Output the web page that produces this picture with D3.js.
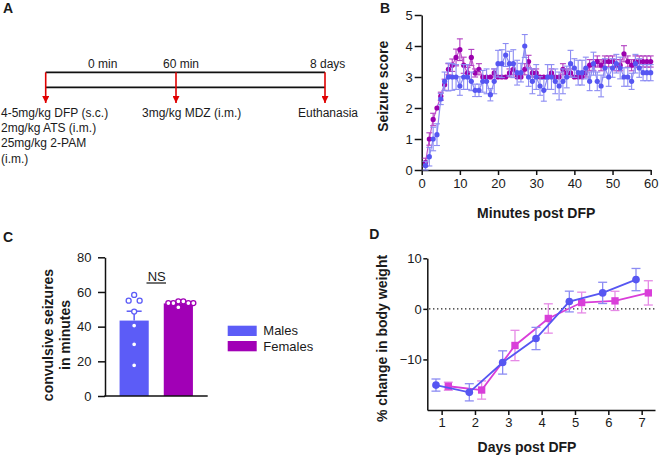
<!DOCTYPE html>
<html><head><meta charset="utf-8">
<script src="https://cdn.jsdelivr.net/npm/d3@7"></script>
<style>
body{margin:0;background:#fff}
svg{display:block}
text{font-family:"Liberation Sans",Arial,sans-serif;fill:#1a1a1a}
</style>
</head><body>
<svg id="c" width="659" height="456"></svg>
<script>
// ---------- DATA ----------
// Panel A: timeline
const timelineTimes = ["0 min", "60 min", "8 days"];
const timelineLabels = [
  ["4-5mg/kg DFP (s.c.)", "2mg/kg ATS (i.m.)", "25mg/kg 2-PAM", "(i.m.)"],
  ["3mg/kg MDZ (i.m.)"],
  ["Euthanasia"]
];
// Panel B: seizure score per minute
const minutes = d3.range(1, 61);
const maleScore = [0.14,0.43,1.0,1.14,2.29,2.86,3.0,3.0,3.0,2.71,3.0,3.0,2.86,2.57,2.57,2.86,2.86,2.43,2.86,3.43,
  3.43,3.71,3.43,3.43,3.14,3.14,4.0,3.0,2.86,3.0,2.71,2.57,3.0,3.0,2.86,2.71,2.86,3.0,3.43,3.29,
  3.14,3.14,3.29,2.86,3.43,2.86,2.71,3.29,3.0,3.29,3.43,3.29,3.0,3.0,2.86,3.43,3.29,3.14,3.14,3.14];
const maleScoreErr = [0.14,0.3,0.38,0.35,0.18,0.3,0.45,0.43,0.4,0.3,0.4,0.4,0.3,0.2,0.2,0.35,0.4,0.2,0.4,0.43,
  0.45,0.37,0.4,0.45,0.4,0.3,0.37,0.3,0.4,0.4,0.3,0.35,0.4,0.4,0.4,0.45,0.4,0.35,0.43,0.3,
  0.4,0.4,0.35,0.3,0.37,0.3,0.35,0.3,0.3,0.3,0.3,0.35,0.3,0.3,0.26,0.3,0.3,0.26,0.26,0.26];
const femaleScore = [0.25,1.0,1.63,2.0,2.38,2.75,3.25,3.38,3.63,3.88,3.38,3.13,3.63,3.13,3.25,3.0,3.0,3.0,3.13,3.0,
  3.0,3.0,3.13,3.25,3.0,3.0,3.25,3.5,3.13,3.13,3.0,3.0,3.0,3.13,3.0,3.0,3.25,3.13,3.13,3.0,
  3.0,3.0,3.13,3.38,3.38,3.5,3.38,3.5,3.5,3.5,3.38,3.38,3.75,3.5,3.38,3.5,3.5,3.5,3.5,3.5];
const femaleScoreErr = [0.13,0.2,0.2,0.0,0.13,0.18,0.18,0.2,0.27,0.35,0.26,0.18,0.26,0.13,0.18,0.0,0.0,0.0,0.13,0.0,
  0.0,0.0,0.13,0.18,0.0,0.0,0.18,0.2,0.13,0.13,0.0,0.0,0.0,0.13,0.0,0.0,0.18,0.13,0.13,0.0,
  0.0,0.0,0.13,0.18,0.18,0.18,0.18,0.18,0.18,0.18,0.18,0.18,0.26,0.18,0.18,0.18,0.18,0.18,0.18,0.18];
// Panel C: convulsive seizure duration
const groups = ["Males", "Females"];
const seizureMean = [43.5, 53.4];
const seizureSem = [5.4, 0.5];
const maleSeizure = [58.3, 55, 55, 48.7, 40.6, 29.8, 17.7];
const femaleSeizure = [54.6, 54.6, 53.6, 53.6, 53.6, 53.6, 51.2];
const seizureTicks = [0, 20, 40, 60, 80];
// Panel D: body weight change
const days = [1, 2, 3, 4, 5, 6, 7];
const maleWeight = [-15.07, -16.5, -10.6, -5.86, 1.45, 3.16, 5.79];
const maleWeightErr = [1.2, 1.7, 2.3, 2.2, 2.05, 2.1, 2.2];
const femaleWeight = [-15.3, -16.05, -7.24, -1.9, 1.25, 1.58, 3.16];
const femaleWeightErr = [0.8, 1.8, 3.0, 2.9, 2.05, 1.9, 2.4];
const weightTicks = [-10, 0, 10];

// ---------- STYLE ----------
const C = {
  maleDark: "#5656f2", maleLight: "#8c8cf3", maleBar: "#5c5cf7",
  femDark: "#9b00ae", femLine: "#c050cc", femBar: "#a100b6",
  pinkDark: "#d93ed9", pinkLight: "#e68ae6",
  red: "#e00000"
};
const svg = d3.select("#c");
const boldT = (x, y, s, size = 14) => svg.append("text").attr("x", x).attr("y", y)
  .attr("font-weight", "bold").attr("font-size", size).text(s);
function styleAxis(g) {
  g.selectAll("path,line").attr("stroke", "#111").attr("stroke-width", 1.5);
  g.selectAll("text").attr("font-size", 13).attr("fill", "#1a1a1a")
    .attr("font-family", '"Liberation Sans",Arial,sans-serif');
}

// ---------- PANEL A ----------
boldT(3, 13, "A");
const aX0 = 45.7, aX1 = 325;
const evX = d3.scaleOrdinal().domain(timelineTimes).range([45.7, 176, 325]);
const timeTextX = d3.scaleOrdinal().domain(timelineTimes).range([88, 163, 310]);
const labelX = d3.scaleOrdinal().domain(timelineTimes).range([1, 142, 298]);
[72.3, 87.3].forEach(y => svg.append("line").attr("x1", aX0).attr("x2", aX1)
  .attr("y1", y).attr("y2", y).attr("stroke", "#111").attr("stroke-width", 1.8));
svg.append("defs").append("marker").attr("id", "arr").attr("viewBox", "0 0 10 10")
  .attr("refX", 10).attr("refY", 5).attr("markerWidth", 7).attr("markerHeight", 7)
  .attr("markerUnits", "userSpaceOnUse").attr("orient", "auto")
  .append("path").attr("d", "M0,0L10,5L0,10z").attr("fill", C.red);
timelineTimes.forEach((t, i) => {
  svg.append("line").attr("x1", evX(t)).attr("x2", evX(t)).attr("y1", 72.3).attr("y2", 103)
    .attr("stroke", C.red).attr("stroke-width", 1.6).attr("marker-end", "url(#arr)");
  svg.append("text").attr("x", timeTextX(t)).attr("y", 68).attr("font-size", 12).text(t);
  timelineLabels[i].forEach((s, j) => svg.append("text").attr("x", labelX(t))
    .attr("y", 117 + j * 15.2).attr("font-size", 12).text(s));
});

// ---------- PANEL B ----------
boldT(380, 13, "B");
const xB = d3.scaleLinear([0, 60], [421.7, 650.7]);
const yB = d3.scaleLinear([0, 5], [170, 15]);
svg.append("g").attr("transform", "translate(421.7,0)")
  .call(d3.axisLeft(yB).ticks(5).tickSize(7).tickSizeOuter(0).tickPadding(2)).call(styleAxis);
svg.append("g").attr("transform", "translate(0,170)")
  .call(d3.axisBottom(xB).tickValues([0, 10, 20, 30, 40, 50, 60]).tickSize(5).tickSizeOuter(0).tickPadding(4))
  .call(styleAxis);
boldT(0, 0, "Seizure score").attr("transform", "translate(388,86.3) rotate(-90)").attr("text-anchor", "middle");
boldT(536.2, 218, "Minutes post DFP").attr("text-anchor", "middle");

function drawScoreSeries(vals, errs, dot, line, errC) {
  const g = svg.append("g");
  const cw = 3;
  minutes.forEach((m, i) => {
    if (errs[i] <= 0) return;
    const x = xB(m), y1 = yB(vals[i] - errs[i]), y2 = yB(vals[i] + errs[i]);
    g.append("line").attr("x1", x).attr("x2", x).attr("y1", y1).attr("y2", y2);
    g.append("line").attr("x1", x - cw).attr("x2", x + cw).attr("y1", y1).attr("y2", y1);
    g.append("line").attr("x1", x - cw).attr("x2", x + cw).attr("y1", y2).attr("y2", y2);
  });
  g.selectAll("line").attr("stroke", errC).attr("stroke-width", 1.1);
  g.append("path").datum(vals).attr("fill", "none").attr("stroke", line).attr("stroke-width", 1.2)
    .attr("d", d3.line().x((d, i) => xB(minutes[i])).y(d => yB(d)));
  g.selectAll("circle").data(vals).join("circle").attr("cx", (d, i) => xB(minutes[i]))
    .attr("cy", d => yB(d)).attr("r", 2.6).attr("fill", dot);
}
drawScoreSeries(femaleScore, femaleScoreErr, C.femDark, C.femLine, "#b13ec0");
drawScoreSeries(maleScore, maleScoreErr, C.maleDark, C.maleLight, C.maleLight);

// ---------- PANEL C ----------
boldT(3, 242, "C");
const yC = d3.scaleLinear([0, 80], [396, 257.3]);
const xC = d3.scaleBand().domain(groups).range([105, 207.5]).paddingInner(0.34).paddingOuter(0.33);
const barCol = [C.maleBar, C.femBar];
svg.append("g").selectAll("rect").data(groups).join("rect")
  .attr("x", d => xC(d)).attr("width", xC.bandwidth())
  .attr("y", (d, i) => yC(seizureMean[i])).attr("height", (d, i) => yC(0) - yC(seizureMean[i]))
  .attr("fill", (d, i) => barCol[i]);
groups.forEach((gname, i) => {
  const cx = xC(gname) + xC.bandwidth() / 2;
  const yt = yC(seizureMean[i] + seizureSem[i]);
  svg.append("line").attr("x1", cx).attr("x2", cx).attr("y1", yC(seizureMean[i])).attr("y2", yt)
    .attr("stroke", barCol[i]).attr("stroke-width", 1.5);
  svg.append("line").attr("x1", cx - 7.5).attr("x2", cx + 7.5).attr("y1", yt).attr("y2", yt)
    .attr("stroke", barCol[i]).attr("stroke-width", 1.5);
});
function swarm(vals, cx, collide, step) {
  const placed = [];
  vals.map(v => ({ v, y: yC(v) })).sort((a, b) => b.v - a.v).forEach(p => {
    for (let k = 0; k < 40; k++) {
      const off = k === 0 ? 0 : (k % 2 ? 1 : -1) * Math.ceil(k / 2) * step;
      const x = cx + off;
      if (placed.every(q => Math.hypot(q.x - x, q.y - p.y) >= collide)) { placed.push({ x, y: p.y }); break; }
    }
  });
  return placed;
}
[[maleSeizure, 7.5, 5.5], [femaleSeizure, 5, 5]].forEach(([vals, col, st], i) => {
  const cx = xC(groups[i]) + xC.bandwidth() / 2;
  svg.append("g").selectAll("circle").data(swarm(vals, cx, col, st)).join("circle")
    .attr("cx", d => d.x).attr("cy", d => d.y).attr("r", 2.5)
    .attr("fill", "#fff").attr("stroke", barCol[i]).attr("stroke-width", 1.3);
});
svg.append("g").attr("transform", "translate(105,0)")
  .call(d3.axisLeft(yC).tickValues(seizureTicks).tickSize(7).tickSizeOuter(0).tickPadding(6.5)).call(styleAxis);
svg.append("line").attr("x1", 104.25).attr("x2", 207.7).attr("y1", 396).attr("y2", 396)
  .attr("stroke", "#111").attr("stroke-width", 1.5);
svg.append("text").attr("x", 156.7).attr("y", 280.5).attr("text-anchor", "middle").attr("font-size", 13).text("NS");
svg.append("line").attr("x1", 146.5).attr("x2", 166).attr("y1", 283).attr("y2", 283)
  .attr("stroke", "#111").attr("stroke-width", 1.2);
boldT(0, 0, "convulsive seizures").attr("transform", "translate(53.3,335) rotate(-90)").attr("text-anchor", "middle");
boldT(0, 0, "in minutes").attr("transform", "translate(70,335) rotate(-90)").attr("text-anchor", "middle");
groups.forEach((gname, i) => {
  svg.append("rect").attr("x", 227.7).attr("y", 325.7 + i * 15.3).attr("width", 29).attr("height", 10.3)
    .attr("fill", barCol[i]);
  svg.append("text").attr("x", 263.3).attr("y", 335.3 + i * 15.3).attr("font-size", 13).text(gname);
});

// ---------- PANEL D ----------
boldT(369.3, 239, "D");
const xD = d3.scaleLinear([0.57, 7.4], [427.3, 655]);
const yD = d3.scaleLinear([-20, 10], [410, 258.3]);
svg.append("line").attr("x1", 429).attr("x2", 655).attr("y1", yD(0)).attr("y2", yD(0))
  .attr("stroke", "#222").attr("stroke-width", 1.2).attr("stroke-dasharray", "1.4,2.6");
svg.append("g").attr("transform", "translate(427.3,0)")
  .call(d3.axisLeft(yD).tickValues(weightTicks).tickSize(4).tickSizeOuter(0).tickPadding(1.5)).call(styleAxis);
svg.append("g").attr("transform", "translate(0,410)")
  .call(d3.axisBottom(xD).tickValues(days).tickFormat(d3.format("d")).tickSize(5).tickSizeOuter(0).tickPadding(3))
  .call(styleAxis);
boldT(0, 0, "% change in body weight").attr("transform", "translate(387,338.5) rotate(-90)").attr("text-anchor", "middle");
boldT(527, 451.5, "Days post DFP").attr("text-anchor", "middle");

function drawWeight(vals, errs, dodge, dark, light, shape) {
  const g = svg.append("g");
  const px = i => xD(days[i] + dodge);
  const eg = g.append("g").attr("stroke", light).attr("stroke-width", 1.3);
  vals.forEach((v, i) => {
    const x = px(i), y1 = yD(v - errs[i]), y2 = yD(v + errs[i]);
    eg.append("line").attr("x1", x).attr("x2", x).attr("y1", y1).attr("y2", y2);
    [y1, y2].forEach(y => eg.append("line").attr("x1", x - 4.5).attr("x2", x + 4.5).attr("y1", y).attr("y2", y));
  });
  g.append("path").datum(vals).attr("fill", "none").attr("stroke", dark).attr("stroke-width", 1.8)
    .attr("d", d3.line().x((d, i) => px(i)).y(d => yD(d)));
  g.selectAll("path.m").data(vals).join("path").attr("class", "m")
    .attr("transform", (d, i) => `translate(${px(i)},${yD(d)})`)
    .attr("d", d3.symbol().type(shape).size(shape === d3.symbolCircle ? 46 : 54)).attr("fill", dark);
}
drawWeight(femaleWeight, femaleWeightErr, 0.2, C.pinkDark, C.pinkLight, d3.symbolSquare);
drawWeight(maleWeight, maleWeightErr, -0.17, C.maleDark, C.maleLight, d3.symbolCircle);
</script>
</body></html>
